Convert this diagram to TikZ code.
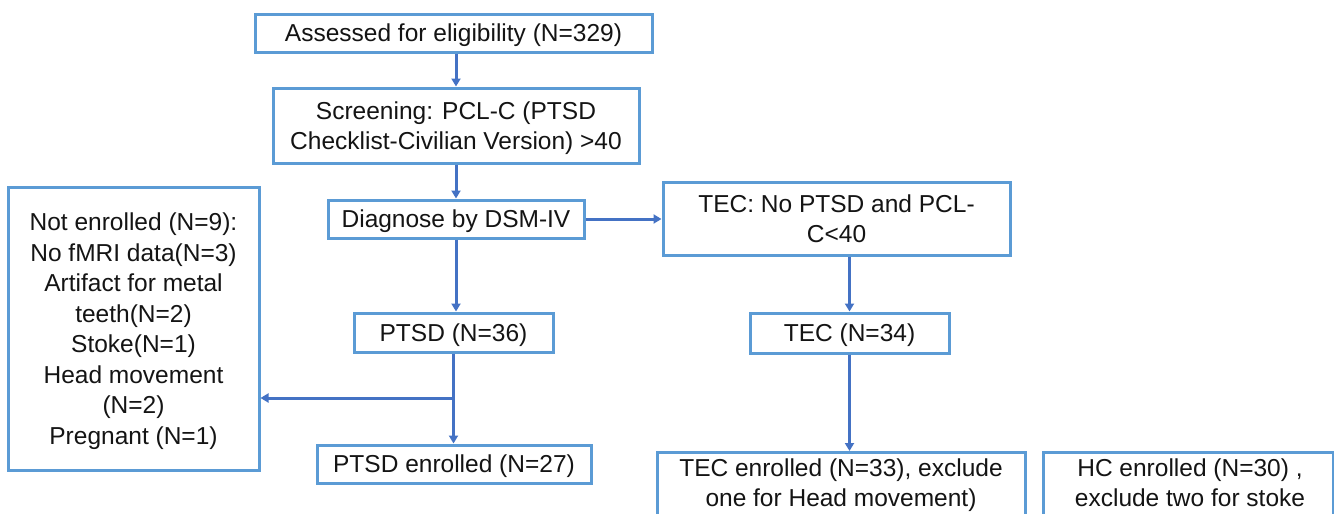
\documentclass[tikz,border=0pt]{standalone}
\usepackage{fontspec}
\setmainfont{Liberation Sans}
\usetikzlibrary{arrows.meta}
\definecolor{boxblue}{RGB}{91,155,213}
\definecolor{arrblue}{RGB}{68,114,196}
\definecolor{txt}{RGB}{20,20,20}
\begin{document}
\begin{tikzpicture}[x=1pt,y=-1pt,
  box/.style={draw=boxblue, line width=3pt, fill=white, align=center, inner sep=0pt, text depth=0pt, text=txt, font=\fontsize{24.5}{30.5}\selectfont},
  lbl/.style={align=center, inner sep=0pt, text depth=0pt, text=txt, font=\fontsize{24.5}{30.5}\selectfont},
  arr/.style={draw=arrblue, line width=3pt, -{Triangle[length=8pt,width=9pt]}}]
\useasboundingbox (0,0) rectangle (1334,514);
\clip (0,0) rectangle (1334,514);
\fill[white] (0,0) rectangle (1334,514);
\node[box, minimum width=397pt, minimum height=38pt] (assess) at (453.5,33) {Assessed for eligibility (N=329)};
\node[box, minimum width=366pt, minimum height=75pt] (screen) at (456,125.5) {Screening: PCL-C (PTSD\\Checklist-Civilian Version) >40};
\node[box, minimum width=256pt, minimum height=38pt] (diag) at (456,219) {Diagnose by DSM-IV};
\node[box, minimum width=347pt, minimum height=73pt] (tec1) at (836.5,218.5) {TEC: No PTSD and PCL-\\C<40};
\node[box, minimum width=199pt, minimum height=40pt] (tec34) at (849.5,333) {TEC (N=34)};
\node[box, minimum width=199pt, minimum height=39pt] (ptsd36) at (453.5,332.5) {PTSD (N=36)};
\node[box, minimum width=274pt, minimum height=38pt] (ptsdenr) at (454,464) {PTSD enrolled (N=27)};
\node[box, minimum width=251pt, minimum height=283pt] (notenr) at (133.5,328.5) {Not enrolled (N=9):\\No fMRI data(N=3)\\Artifact for metal\\teeth(N=2)\\Stoke(N=1)\\Head movement\\(N=2)\\Pregnant (N=1)};
\node[box, minimum width=368pt, minimum height=90pt, anchor=north] (tecenr) at (841,451) {};
\node[lbl] (tecenrtxt) at (841,482.5) {TEC enrolled (N=33), exclude\\one for Head movement)};
\node[box, minimum width=290pt, minimum height=90pt, anchor=north] (hcenr) at (1188,451) {};
\node[lbl] (hcenrtxt) at (1190,482.5) {HC enrolled (N=30) ,\\exclude two for stoke};
\coordinate (lvl) at (0,398);
\coordinate (br) at (ptsd36.south |- lvl);
\draw[arr] (screen.north |- assess.south) -- (screen.north);
\draw[arr] (screen.south) -- (screen.south |- diag.north);
\draw[arr] (diag.east) -- (diag.east -| tec1.west);
\draw[arr] (diag.south) -- (diag.south |- ptsd36.north);
\draw[arr] (tec1.south -| tec34.north) -- (tec34.north);
\draw[arr] (ptsd36.south) -- (ptsd36.south |- ptsdenr.north);
\draw[arr] (br) -- (br -| notenr.east);
\draw[arr] (tec34.south) -- (tec34.south |- tecenr.north);
\end{tikzpicture}
\end{document}
